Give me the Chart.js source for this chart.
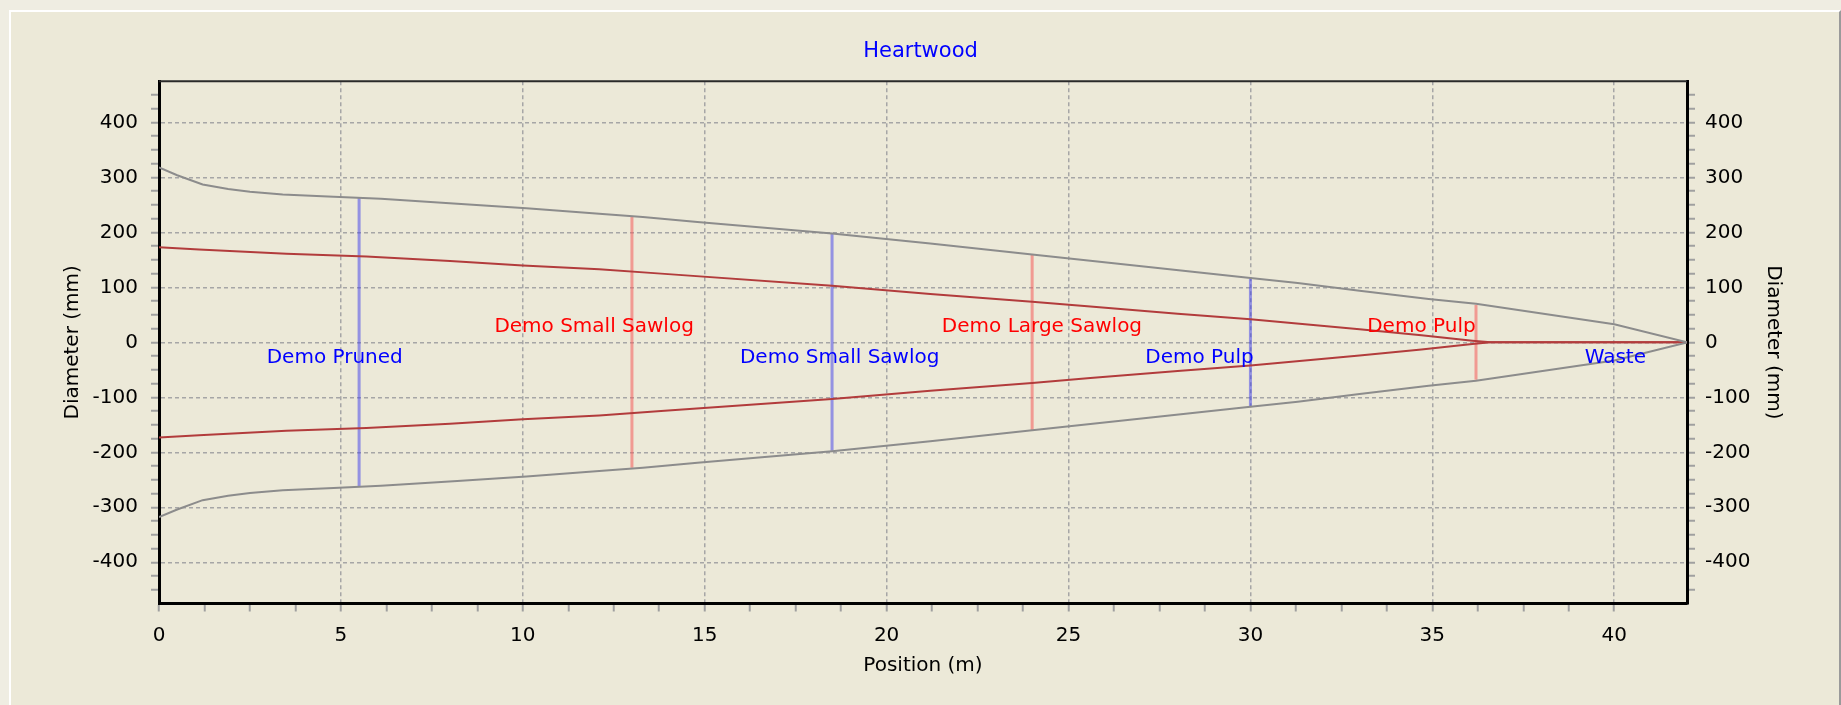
<!DOCTYPE html>
<html>
<head>
<meta charset="utf-8">
<title>Heartwood</title>
<script src="https://cdn.jsdelivr.net/npm/chart.js@4.4.1/dist/chart.umd.min.js"></script>
<style>
  html, body { margin: 0; padding: 0; background: #efede2; overflow: hidden; }
  #panel { position: absolute; left: 9px; top: 10px; width: 1828px; height: 700px; background: #ece9d8;
           border-left: 2px solid #fff; border-top: 2px solid #fff; border-right: 2px solid #9a9a9a; }
  #wrap { position: absolute; left: 0; top: 0; width: 1841px; height: 705px; }
</style>
</head>
<body>
<div id="panel"></div>
<div id="wrap"><canvas id="logChart" width="1841" height="705"></canvas></div>
<script>
// stem profile (radius in mm, drawn mirrored about 0)
const outerX = [0, 0.5, 1.2, 1.9, 2.5, 3.4, 4.8, 6.1, 8.2, 10.1, 12.1, 13.3, 14.8, 18.5, 21.2, 24, 27.2, 30, 31.3, 33, 34.9, 36.2, 40, 42];
const outerR = [318, 304, 287, 279, 274, 269, 265, 261, 252, 244, 234, 228, 219, 198, 180, 160, 137, 117, 108, 94, 79, 70, 33, 0];

const heartX = [0, 1.1, 3.5, 5.7, 8, 10, 12.1, 13.8, 18.5, 21.2, 24, 25.6, 28, 30, 33, 34.7, 36.1, 36.6, 42];
const heartR = [173, 169, 161, 156, 148, 140, 133, 125, 103, 88, 74, 65, 52, 42, 24, 13, 3, 0, 0];

// log cut positions
const logCutX = [5.5, 18.5, 30];
const logCutR = [263, 197, 116];
const heartCutX = [13, 24, 36.2];
const heartCutR = [228, 160, 68];

// log names
const logLabelText = ['Demo Pruned', 'Demo Small Sawlog', 'Demo Pulp', 'Waste'];
const logLabelX = [4.83, 18.71, 28.6, 40.03];
const logLabelY = [-28, -28, -28, -28];
const heartLabelText = ['Demo Small Sawlog', 'Demo Large Sawlog', 'Demo Pulp'];
const heartLabelX = [11.96, 24.27, 34.7];
const heartLabelY = [28, 28, 28];

const xTickStep = 1.25;
const yTickStep = 25;

document.addEventListener("DOMContentLoaded", function() {
  Chart.defaults.font.family = "'DejaVu Sans', sans-serif";
  Chart.defaults.font.size = 20;
  Chart.defaults.color = '#000';

  const profile = (xs, rs, sign) => xs.map((x, i) => ({x: x, y: sign * rs[i]}));
  const cut = (x, r) => [{x: x, y: r}, {x: x, y: -r}];

  const datasets = [
    {data: profile(outerX, outerR, 1), borderColor: '#8c8c8c', borderWidth: 2},
    {data: profile(outerX, outerR, -1), borderColor: '#8c8c8c', borderWidth: 2},
    {data: profile(heartX, heartR, 1), borderColor: '#b23c3c', borderWidth: 2},
    {data: profile(heartX, heartR, -1), borderColor: '#b23c3c', borderWidth: 2}
  ];
  logCutX.forEach((x, i) => datasets.push({data: cut(x, logCutR[i]), borderColor: 'rgba(60,60,235,0.5)', borderWidth: 3}));
  heartCutX.forEach((x, i) => datasets.push({data: cut(x, heartCutR[i]), borderColor: 'rgba(245,90,90,0.55)', borderWidth: 3}));
  datasets.forEach(d => { d.showLine = true; d.pointRadius = 0; d.tension = 0; d.fill = false; });

  const logNames = {
    id: 'logNames',
    afterDatasetsDraw(chart) {
      const ctx = chart.ctx;
      const sx = chart.scales.x, sy = chart.scales.y;
      ctx.save();
      ctx.font = "20px 'DejaVu Sans'";
      ctx.textAlign = 'center';
      ctx.textBaseline = 'middle';
      ctx.fillStyle = '#ff0000';
      heartLabelText.forEach((t, i) => ctx.fillText(t, sx.getPixelForValue(heartLabelX[i]), sy.getPixelForValue(heartLabelY[i])));
      ctx.fillStyle = '#0000ff';
      logLabelText.forEach((t, i) => ctx.fillText(t, sx.getPixelForValue(logLabelX[i]), sy.getPixelForValue(logLabelY[i])));
      ctx.restore();
    }
  };

  const topEdge = {
    id: 'topEdge',
    afterDraw(chart) {
      const {ctx, chartArea: a} = chart;
      ctx.save();
      ctx.strokeStyle = '#2a2a2a';
      ctx.lineWidth = 2;
      ctx.beginPath();
      ctx.moveTo(a.left, a.top);
      ctx.lineTo(a.right, a.top);
      ctx.stroke();
      ctx.restore();
    }
  };

  const isMult = (v, m) => Math.abs(v / m - Math.round(v / m)) < 1e-6;

  const yAxis = (pos, width, titlePad, tickPad) => ({
    type: 'linear',
    position: pos,
    min: -475,
    max: 475,
    afterFit: s => { s.width = width; },
    ticks: {
      stepSize: yTickStep,
      padding: tickPad,
      autoSkip: false,
      callback: v => isMult(v, 100) ? String(v) : ''
    },
    grid: {
      drawOnChartArea: pos === 'left',
      color: c => (c.tick && isMult(c.tick.value, 100)) ? '#a6a6a6' : 'rgba(0,0,0,0)',
      lineWidth: 1.5,
      tickLength: 8,
      tickWidth: 2,
      tickColor: c => (c.tick && Math.abs(c.tick.value) < 470) ? '#a0a0a0' : 'rgba(0,0,0,0)'
    },
    border: {color: '#000', width: 3, dash: [4, 3]},
    title: {display: true, text: 'Diameter (mm)', padding: {top: titlePad, bottom: 0}}
  });

  new Chart(document.getElementById('logChart'), {
    type: 'scatter',
    data: {datasets: datasets},
    options: {
      responsive: false,
      animation: false,
      layout: {padding: 0},
      plugins: {
        legend: {display: false},
        tooltip: {enabled: false},
        title: {
          display: true,
          text: 'Heartwood',
          color: '#0000ff',
          font: {size: 21, weight: 'normal'},
          padding: {top: 39, bottom: 17}
        }
      },
      scales: {
        x: {
          type: 'linear',
          position: 'bottom',
          min: 0,
          max: 42,
          afterFit: s => { s.height = 101.5; },
          ticks: {
            stepSize: xTickStep,
            padding: 12,
            maxRotation: 0,
            autoSkip: false,
            callback: v => isMult(v, 5) ? String(v) : ''
          },
          grid: {
            color: c => (c.tick && isMult(c.tick.value, 5) && c.tick.value > 0) ? '#a6a6a6' : 'rgba(0,0,0,0)',
            lineWidth: 1.5,
            tickLength: 8,
            tickWidth: 2,
            tickColor: c => (c.tick && isMult(c.tick.value, xTickStep)) ? '#a0a0a0' : 'rgba(0,0,0,0)'
          },
          border: {color: '#000', width: 3, dash: [4, 3]},
          title: {display: true, text: 'Position (m)', padding: {top: 0, bottom: 27.5}}
        },
        y: yAxis('left', 159, 60.5, 13),
        y2: yAxis('right', 154, 56, 10)
      }
    },
    plugins: [logNames, topEdge]
  });
});
</script>
</body>
</html>
